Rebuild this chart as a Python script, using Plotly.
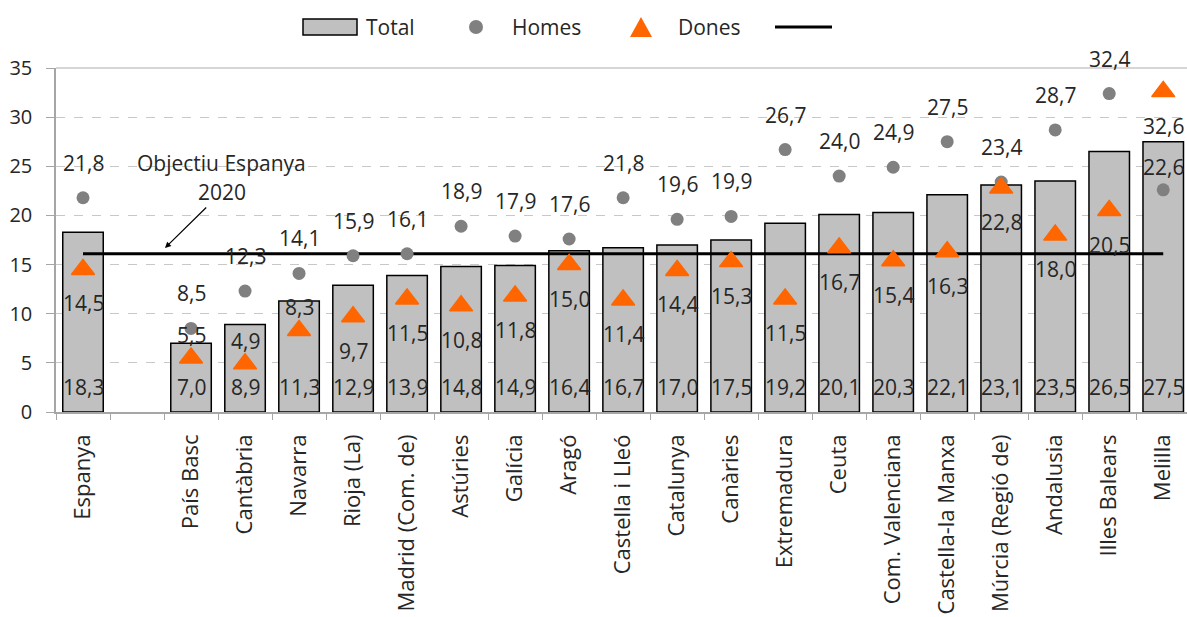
import plotly.graph_objects as go

# Early school leaving rate (%) by autonomous community
categories = ["Espanya", " ", "País Basc", "Cantàbria", "Navarra", "Rioja (La)",
              "Madrid (Com. de)", "Astúries", "Galícia", "Aragó", "Castella i Lleó",
              "Catalunya", "Canàries", "Extremadura", "Ceuta", "Com. Valenciana",
              "Castella-la Manxa", "Múrcia (Regió de)", "Andalusia", "Illes Balears",
              "Melilla"]
total = [18.3, None, 7.0, 8.9, 11.3, 12.9, 13.9, 14.8, 14.9, 16.4, 16.7,
         17.0, 17.5, 19.2, 20.1, 20.3, 22.1, 23.1, 23.5, 26.5, 27.5]
homes = [21.8, None, 8.5, 12.3, 14.1, 15.9, 16.1, 18.9, 17.9, 17.6, 21.8,
         19.6, 19.9, 26.7, 24.0, 24.9, 27.5, 23.4, 28.7, 32.4, 22.6]
dones = [14.5, None, 5.5, 4.9, 8.3, 9.7, 11.5, 10.8, 11.8, 15.0, 11.4,
         14.4, 15.3, 11.5, 16.7, 15.4, 16.3, 22.8, 18.0, 20.5, 32.6]
objectiu = 16.1

# where the "Dones" value labels sit relative to their marker
dones_label_side = ["below", None, "above", "above", "above"] + ["below"] * 16
# pixel lift of the "Homes" value labels (the last one sits closer to its marker)
homes_label_lift = [35] * 20 + [23]

FONT = "Open Sans"
TXT = "#262626"
FS = 21

# plot-area edges in pixels (used for the hand-built legend)
L, R, T, B = 56, 1187, 68, 412


def px_x(x):
    return (x - L) / (R - L)


def px_y(y):
    return (B - y) / (B - T)


def fmt(v):
    return f"{v:.1f}".replace(".", ",")


fig = go.Figure()

fig.add_trace(go.Bar(
    x=categories, y=total, name="Total",
    marker=dict(color="#C0C0C0", line=dict(color="black", width=1.5)),
    width=0.75,
))

fig.add_trace(go.Scatter(
    x=[c for c, v in zip(categories, total) if v is not None],
    y=[objectiu for v in total if v is not None],
    mode="lines", name="", line=dict(color="black", width=3),
))

fig.add_trace(go.Scatter(
    x=categories, y=homes, name="Homes", mode="markers",
    marker=dict(symbol="circle", size=13, color="#808080"),
))

fig.add_trace(go.Scatter(
    x=categories, y=dones, name="Dones", mode="markers",
    marker=dict(symbol="triangle-up", size=20, color="#FF6600",
                line=dict(color="#FF6600", width=1.5)),
))

annotations = []
for i, c in enumerate(categories):
    if total[i] is None:
        continue
    annotations.append(dict(x=c, y=0, xref="x", yref="y", text=fmt(total[i]),
                            showarrow=False, yshift=25, yanchor="middle"))
    annotations.append(dict(x=c, y=homes[i], xref="x", yref="y", text=fmt(homes[i]),
                            showarrow=False, yshift=homes_label_lift[i],
                            yanchor="middle"))
    shift = -34 if dones_label_side[i] == "below" else 23
    annotations.append(dict(x=c, y=dones[i], xref="x", yref="y", text=fmt(dones[i]),
                            showarrow=False, yshift=shift, yanchor="middle"))

# target-line callout
annotations.append(dict(x=px_x(221), y=px_y(163), xref="paper", yref="paper",
                        text="Objectiu Espanya", showarrow=False,
                        xanchor="center", yanchor="middle"))
annotations.append(dict(x=px_x(165), y=px_y(248), xref="paper", yref="paper",
                        text="2020", showarrow=True, ax=57, ay=-56,
                        arrowhead=2, arrowsize=1, arrowwidth=1.2,
                        arrowcolor="black"))

# legend texts
for label, xl in [("Total", 364), ("Homes", 510), ("Dones", 676)]:
    annotations.append(dict(x=px_x(xl), y=px_y(27), xref="paper", yref="paper",
                            text=label, showarrow=False, xanchor="left",
                            yanchor="middle"))

shapes = [
    # solid top border of the plot area
    dict(type="line", xref="paper", yref="paper", x0=0, x1=1, y0=1, y1=1,
         line=dict(color="#C8C8C8", width=1.5), layer="below"),
    dict(type="rect", xref="paper", yref="paper",
         x0=px_x(303), x1=px_x(357), y0=px_y(35), y1=px_y(19),
         fillcolor="#C0C0C0", line=dict(color="black", width=1.5)),
    dict(type="circle", xref="paper", yref="paper",
         x0=px_x(469), x1=px_x(483), y0=px_y(34), y1=px_y(20),
         fillcolor="#808080", line=dict(width=0)),
    dict(type="path", xref="paper", yref="paper",
         path=(f"M {px_x(630)},{px_y(37)} L {px_x(652)},{px_y(37)} "
               f"L {px_x(641)},{px_y(17)} Z"),
         fillcolor="#FF6600", line=dict(width=0)),
    dict(type="line", xref="paper", yref="paper",
         x0=px_x(775), x1=px_x(832), y0=px_y(27), y1=px_y(27),
         line=dict(color="black", width=3)),
]

fig.update_layout(
    width=1187, height=617, autosize=False,
    margin=dict(l=L, r=1187 - R, t=T, b=617 - B, pad=0),
    paper_bgcolor="white", plot_bgcolor="white",
    font=dict(family=FONT, size=FS, color=TXT),
    showlegend=False,
    annotations=annotations,
    shapes=shapes,
    bargap=0.25,
)

fig.update_xaxes(
    type="category", range=[-0.5, 20.44], tickangle=-90,
    ticks="outside", tickson="boundaries", ticklen=6, tickcolor="#A6A6A6",
    showline=True, linecolor="#A6A6A6", linewidth=1.5,
    showgrid=False, tickfont=dict(size=22, color=TXT),
    ticklabelstandoff=12, automargin=False,
)
fig.update_yaxes(
    range=[0, 35], dtick=5, tick0=0,
    ticks="outside", ticklen=8, tickcolor="#A6A6A6",
    showline=True, linecolor="#A6A6A6", linewidth=1.5,
    showgrid=True, gridcolor="#C8C8C8", griddash="dash", gridwidth=1,
    zeroline=False, tickfont=dict(size=20, color=TXT),
    ticklabelstandoff=10, automargin=False,
)

fig.write_html("out.html")
